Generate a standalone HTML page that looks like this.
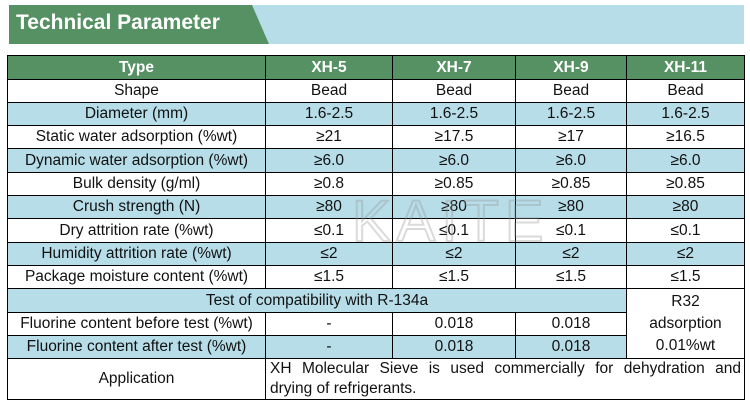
<!DOCTYPE html>
<html><head><meta charset="utf-8"><style>
html,body{margin:0;padding:0;background:#fff;width:750px;height:414px;overflow:hidden;position:relative;font-family:"Liberation Sans",Arial,sans-serif;}
.bl{position:absolute;left:9px;top:5px;width:735px;height:39px;background:#b7dde8;}
.gr{position:absolute;left:9px;top:5px;width:260px;height:39px;background:#559163;clip-path:polygon(0 0,243px 0,260px 39px,0 39px);}
.tt{position:absolute;left:16px;top:11px;color:#fff;font-weight:bold;font-size:21px;}
table{position:absolute;left:7px;top:55px;border-collapse:collapse;table-layout:fixed;width:737px;font-size:15.5px;color:#111;}
td{border:1px solid #000;text-align:center;padding:0;line-height:16px;white-space:nowrap;}
tr.h td{background:#559163;color:#fff;font-weight:bold;font-size:15.5px;}
tr.b td{background:#b7dde8;}
.wm{position:absolute;left:352px;top:188px;font-size:58px;letter-spacing:6px;color:transparent;-webkit-text-stroke:2px rgba(150,150,150,0.35);font-family:"Liberation Sans",sans-serif;}
</style></head><body>
<div class="bl"></div><div class="gr"></div><div class="tt">Technical Parameter</div>
<table>
<colgroup><col style="width:258px"><col style="width:127px"><col style="width:123px"><col style="width:111px"><col style="width:118px"></colgroup>
<tr class="h" style="height:24px"><td>Type</td><td>XH-5</td><td>XH-7</td><td>XH-9</td><td>XH-11</td></tr>
<tr style="height:23px"><td>Shape</td><td>Bead</td><td>Bead</td><td>Bead</td><td>Bead</td></tr>
<tr class="b" style="height:23px"><td>Diameter (mm)</td><td>1.6-2.5</td><td>1.6-2.5</td><td>1.6-2.5</td><td>1.6-2.5</td></tr>
<tr style="height:23px"><td>Static water adsorption (%wt)</td><td>≥21</td><td>≥17.5</td><td>≥17</td><td>≥16.5</td></tr>
<tr class="b" style="height:24px"><td>Dynamic water adsorption (%wt)</td><td>≥6.0</td><td>≥6.0</td><td>≥6.0</td><td>≥6.0</td></tr>
<tr style="height:23px"><td>Bulk density (g/ml)</td><td>≥0.8</td><td>≥0.85</td><td>≥0.85</td><td>≥0.85</td></tr>
<tr class="b" style="height:23px"><td>Crush strength (N)</td><td>≥80</td><td>≥80</td><td>≥80</td><td>≥80</td></tr>
<tr style="height:24px"><td>Dry attrition rate (%wt)</td><td>≤0.1</td><td>≤0.1</td><td>≤0.1</td><td>≤0.1</td></tr>
<tr class="b" style="height:23px"><td>Humidity attrition rate (%wt)</td><td>≤2</td><td>≤2</td><td>≤2</td><td>≤2</td></tr>
<tr style="height:23px"><td>Package moisture content (%wt)</td><td>≤1.5</td><td>≤1.5</td><td>≤1.5</td><td>≤1.5</td></tr>
<tr style="height:24px"><td colspan="4" style="background:#b7dde8">Test of compatibility with R-134a</td><td rowspan="3" style="background:#fff;line-height:22px">R32<br>adsorption<br>0.01%wt</td></tr>
<tr style="height:23px"><td>Fluorine content before test (%wt)</td><td>-</td><td>0.018</td><td>0.018</td></tr>
<tr class="b" style="height:23px"><td>Fluorine content after test (%wt)</td><td>-</td><td>0.018</td><td>0.018</td></tr>
<tr style="height:41px"><td>Application</td><td colspan="4" style="text-align:left;padding:0 3px 0 4px;line-height:20px;white-space:normal"><span style="display:block;text-align:justify;text-align-last:justify">XH Molecular Sieve is used commercially for dehydration and</span><span style="display:block">drying of refrigerants.</span></td></tr>
</table>
<div class="wm">KAITE</div>
</body></html>
